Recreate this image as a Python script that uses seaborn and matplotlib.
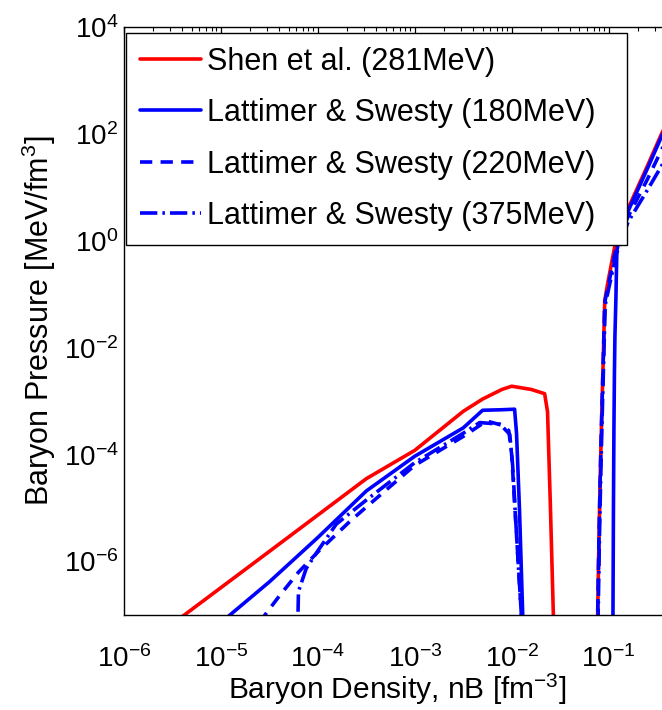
import numpy as np
import pandas as pd
import matplotlib
matplotlib.use("Agg")
import matplotlib.pyplot as plt
import matplotlib.ticker as mticker
import seaborn as sns

# ---------------- data (log10 values) ----------------
shen_lognb = [-5.60, -5.37, -4.50, -4.00, -3.50, -3.00, -2.50, -2.30, -2.10, -2.00,
              -1.80, -1.66, -1.63, -1.60, -1.57, -1.55,
              -1.125, -1.113, -1.100, -1.085, -1.070, -1.055, -1.040, -1.010, -0.938,
              -0.87, -0.80, -0.70, -0.60, -0.454, -0.30]
shen_logp = [-7.30, -6.99, -5.81, -5.13, -4.45, -3.92, -3.19, -2.96, -2.78, -2.72,
             -2.78, -2.86, -3.20, -5.00, -7.00, -8.00,
             -8.00, -7.03, -5.60, -4.30, -3.20, -2.20, -1.12, -0.80, -0.12,
             0.30, 0.60, 1.00, 1.40, 2.00, 2.60]

ls180_lognb = [-4.95, -4.907, -4.50, -4.00, -3.50, -3.00, -2.50, -2.30, -2.10, -1.97,
               -1.95, -1.92, -1.886, -1.87,
               -0.960, -0.955, -0.950, -0.945, -0.940, -0.935, -0.925, -0.915, -0.880,
               -0.80, -0.70, -0.60, -0.454, -0.30]
ls180_logp = [-7.07, -7.00, -6.38, -5.55, -4.68, -4.03, -3.50, -3.17, -3.16, -3.15,
              -3.60, -5.00, -7.00, -8.00,
              -8.00, -7.00, -5.00, -3.50, -2.50, -1.80, -1.10, -0.20, 0.20,
              0.55, 0.95, 1.35, 1.95, 2.55]

ls220_lognb = [-4.60, -4.546, -4.40, -4.20, -4.00, -3.67, -3.50, -3.00, -2.50, -2.26,
               -2.10, -2.03, -2.00, -1.95, -1.90, -1.88,
               -1.125, -1.113, -1.100, -1.085, -1.070, -1.055, -1.040, -1.005, -0.930,
               -0.87, -0.80, -0.70, -0.60, -0.454, -0.30]
ls220_logp = [-7.15, -7.00, -6.65, -6.20, -5.82, -5.25, -4.98, -4.20, -3.66, -3.37,
              -3.45, -3.55, -4.00, -5.50, -7.00, -8.00,
              -8.00, -7.00, -5.60, -4.30, -3.20, -2.20, -1.15, -0.85, -0.20,
              0.15, 0.45, 0.80, 1.15, 1.70, 2.25]

ls375_lognb = [-4.21, -4.205, -4.20, -4.12, -4.00, -3.81, -3.50, -3.00, -2.50, -2.33,
               -2.12, -2.02, -1.99, -1.95, -1.90, -1.88,
               -1.120, -1.108, -1.095, -1.080, -1.065, -1.050, -1.035, -1.000, -0.920,
               -0.86, -0.80, -0.70, -0.60, -0.454, -0.30]
ls375_logp = [-7.50, -7.00, -6.56, -6.13, -5.80, -5.30, -4.85, -4.15, -3.60, -3.40,
              -3.43, -3.62, -4.20, -5.50, -7.00, -8.00,
              -8.00, -7.00, -5.60, -4.30, -3.20, -2.20, -1.20, -0.90, -0.25,
              0.05, 0.35, 0.65, 0.95, 1.40, 1.90]

series_labels = ["Shen et al. (281MeV)", "Lattimer & Swesty (180MeV)",
                 "Lattimer & Swesty (220MeV)", "Lattimer & Swesty (375MeV)"]
x_ticks = [1e-6, 1e-5, 1e-4, 1e-3, 1e-2, 1e-1]
y_ticks = [1e-6, 1e-4, 1e-2, 1e0, 1e2, 1e4]
x_limits = (1e-6, 0.43)
y_limits = (1e-7, 1e4)

# ---------------- style ----------------
sns.set_theme(style="white")
plt.rcParams["font.family"] = ["Liberation Sans", "DejaVu Sans"]
plt.rcParams["mathtext.fontset"] = "custom"
plt.rcParams["mathtext.rm"] = "Liberation Sans"
plt.rcParams["mathtext.it"] = "Liberation Sans:italic"
plt.rcParams["mathtext.bf"] = "Liberation Sans:bold"
plt.rcParams["mathtext.sf"] = "Liberation Sans"

W, H = 662, 710
fig = plt.figure(figsize=(W / 100, H / 100), dpi=100)
fig.patch.set_facecolor("white")
# axes: left 124px, right edge ~670px (just beyond the cropped figure edge), top 27px, bottom 615px
ax = fig.add_axes([124 / W, 95 / H, (670 - 124) / W, 588 / H])
ax.set_facecolor("white")
ax.set_xscale("log")
ax.set_yscale("log")

lw = 2.6
styles = [
    dict(color=(1, 0, 0), linestyle="-"),
    dict(color=(0, 0, 1), linestyle="-"),
    dict(color=(0, 0, 1), linestyle=(0, (3.4, 2.3))),
    dict(color=(0, 0, 1), linestyle=(0, (4.8, 1.4, 0.7, 1.4))),
]
all_series = [(shen_lognb, shen_logp), (ls180_lognb, ls180_logp),
              (ls220_lognb, ls220_logp), (ls375_lognb, ls375_logp)]

for (lx, lp), lab, st in zip(all_series, series_labels, styles):
    df = pd.DataFrame({"nB": np.power(10.0, lx), "P": np.power(10.0, lp)})
    sns.lineplot(data=df, x="nB", y="P", sort=False, estimator=None, ax=ax,
                 color=st["color"], linestyle=st["linestyle"], lw=lw, label=lab)

ax.set_xlim(*x_limits)
ax.set_ylim(*y_limits)

ax.xaxis.set_major_locator(mticker.FixedLocator(x_ticks))
ax.xaxis.set_minor_locator(mticker.LogLocator(base=10, subs=np.arange(2, 10), numticks=20))
ax.yaxis.set_major_locator(mticker.FixedLocator(y_ticks))
ax.yaxis.set_minor_locator(mticker.NullLocator())
ax.xaxis.set_major_formatter(mticker.LogFormatterSciNotation())
ax.yaxis.set_major_formatter(mticker.LogFormatterSciNotation())

ax.tick_params(axis="both", which="both", direction="in", top=True, right=True,
               colors="black", labelcolor="black")
ax.tick_params(axis="both", which="major", length=5, width=0.9, labelsize=20)
ax.tick_params(axis="x", which="minor", length=2.8, width=0.8)
ax.tick_params(axis="x", which="major", pad=22)
ax.tick_params(axis="y", which="major", pad=4)

for sp in ax.spines.values():
    sp.set_visible(True)
    sp.set_color("black")
    sp.set_linewidth(1.0)

ax.set_xlabel(r"Baryon Density, nB [fm$^{-3}$]", fontsize=21.5, color="black", labelpad=-1)
ax.set_ylabel(r"Baryon Pressure [MeV/fm$^{3}$]", fontsize=22, color="black", labelpad=4)

leg = ax.legend(loc="upper left", bbox_to_anchor=(126 / W, 1 - 246 / H, 501 / W, 213 / H),
                bbox_transform=fig.transFigure, mode="expand", borderaxespad=0, fontsize=22,
                fancybox=False, framealpha=1, edgecolor="black", handlelength=2.0,
                handletextpad=0.2, labelspacing=0.70, borderpad=0.45)
leg.get_frame().set_linewidth(1.0)
for t in leg.get_texts():
    t.set_color("black")

fig.savefig("out.png", dpi=100, facecolor="white")
